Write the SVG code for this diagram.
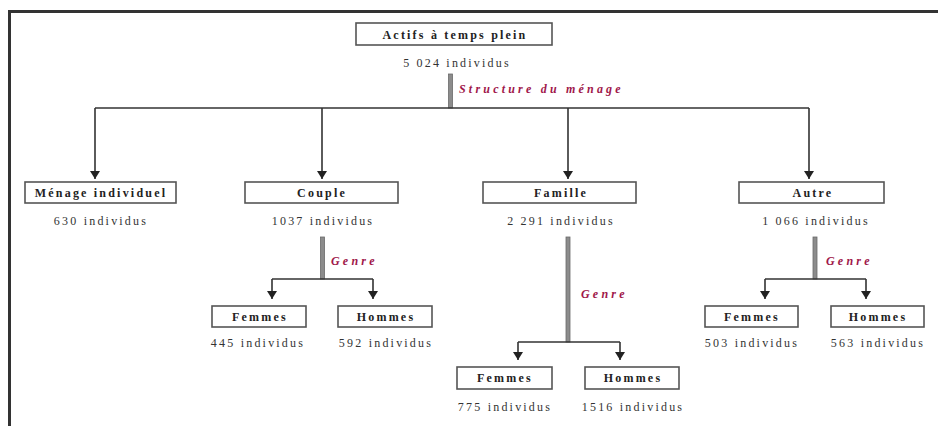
<svg xmlns="http://www.w3.org/2000/svg" width="938" height="426" viewBox="0 0 938 426">
<defs>
<style>
.box{fill:#fff;stroke:#555;stroke-width:1.6}
.lbl{font-family:"Liberation Serif",serif;font-weight:bold;font-size:12px;letter-spacing:2.2px;fill:#222;text-anchor:middle}
.cnt{font-family:"Liberation Serif",serif;font-size:12px;letter-spacing:2.2px;fill:#333;text-anchor:middle}
.crit{font-family:"Liberation Serif",serif;font-weight:bold;font-style:italic;font-size:12px;letter-spacing:3.2px;fill:#a0174a}
.ln{fill:none;stroke:#333;stroke-width:1.6}
.bar{fill:#8c8c8c;stroke:#6a6a6a;stroke-width:0.8}
</style>
<marker id="ah" viewBox="0 0 8 10" refX="8" refY="5" markerWidth="8" markerHeight="10" markerUnits="userSpaceOnUse" orient="auto">
<path d="M0,0 L8,5 L0,10 Z" fill="#222"/>
</marker>
</defs>
<rect width="938" height="426" fill="#fff"/>
<path d="M9.5,440 L9.5,11.5 L950,11.5" fill="none" stroke="#333" stroke-width="3"/>

<g id="connectors">
  <rect class="bar" x="448.5" y="74" width="4" height="34"/>
  <path class="ln" d="M95,108 L809,108"/>
  <path class="ln" d="M95,108 L95,179" marker-end="url(#ah)"/>
  <path class="ln" d="M322,108 L322,179" marker-end="url(#ah)"/>
  <path class="ln" d="M568,108 L568,179" marker-end="url(#ah)"/>
  <path class="ln" d="M809,108 L809,179" marker-end="url(#ah)"/>
  <text class="crit" x="459" y="93">Structure du ménage</text>

  <rect class="bar" x="320.5" y="237" width="4" height="42"/>
  <path class="ln" d="M272,279 L373,279"/>
  <path class="ln" d="M272,279 L272,299" marker-end="url(#ah)"/>
  <path class="ln" d="M373,279 L373,299" marker-end="url(#ah)"/>
  <text class="crit" x="331" y="265">Genre</text>

  <rect class="bar" x="566" y="237" width="4" height="105"/>
  <path class="ln" d="M518,342 L620,342"/>
  <path class="ln" d="M518,342 L518,360" marker-end="url(#ah)"/>
  <path class="ln" d="M620,342 L620,360" marker-end="url(#ah)"/>
  <text class="crit" x="581" y="298">Genre</text>

  <rect class="bar" x="813" y="237" width="4" height="42"/>
  <path class="ln" d="M765,279 L866,279"/>
  <path class="ln" d="M765,279 L765,299" marker-end="url(#ah)"/>
  <path class="ln" d="M866,279 L866,299" marker-end="url(#ah)"/>
  <text class="crit" x="826" y="265">Genre</text>
</g>

<g id="root">
  <rect class="box" x="356" y="23" width="196" height="22"/>
  <text class="lbl" x="455" y="39">Actifs à temps plein</text>
  <text class="cnt" x="457" y="67">5 024 individus</text>
</g>

<g id="menage">
  <rect class="box" x="25" y="182" width="151" height="21"/>
  <text class="lbl" x="101" y="197">Ménage individuel</text>
  <text class="cnt" x="101" y="225">630 individus</text>
</g>
<g id="couple">
  <rect class="box" x="245" y="182" width="153" height="21"/>
  <text class="lbl" x="322" y="197">Couple</text>
  <text class="cnt" x="323" y="225">1037 individus</text>
</g>
<g id="famille">
  <rect class="box" x="483" y="182" width="153" height="21"/>
  <text class="lbl" x="561" y="197">Famille</text>
  <text class="cnt" x="561" y="225">2 291 individus</text>
</g>
<g id="autre">
  <rect class="box" x="739" y="182" width="145" height="21"/>
  <text class="lbl" x="813" y="197">Autre</text>
  <text class="cnt" x="816" y="225">1 066 individus</text>
</g>

<g id="couple-femmes">
  <rect class="box" x="212" y="306" width="94" height="21"/>
  <text class="lbl" x="260" y="321">Femmes</text>
  <text class="cnt" x="258" y="347">445 individus</text>
</g>
<g id="couple-hommes">
  <rect class="box" x="338" y="306" width="94" height="21"/>
  <text class="lbl" x="386" y="321">Hommes</text>
  <text class="cnt" x="386" y="347">592 individus</text>
</g>
<g id="famille-femmes">
  <rect class="box" x="457" y="367" width="95" height="22"/>
  <text class="lbl" x="505" y="382">Femmes</text>
  <text class="cnt" x="505" y="411">775 individus</text>
</g>
<g id="famille-hommes">
  <rect class="box" x="585" y="367" width="94" height="22"/>
  <text class="lbl" x="633" y="382">Hommes</text>
  <text class="cnt" x="633" y="411">1516 individus</text>
</g>
<g id="autre-femmes">
  <rect class="box" x="705" y="306" width="93" height="21"/>
  <text class="lbl" x="752" y="321">Femmes</text>
  <text class="cnt" x="752" y="347">503 individus</text>
</g>
<g id="autre-hommes">
  <rect class="box" x="831" y="306" width="93" height="21"/>
  <text class="lbl" x="878" y="321">Hommes</text>
  <text class="cnt" x="878" y="347">563 individus</text>
</g>
</svg>
